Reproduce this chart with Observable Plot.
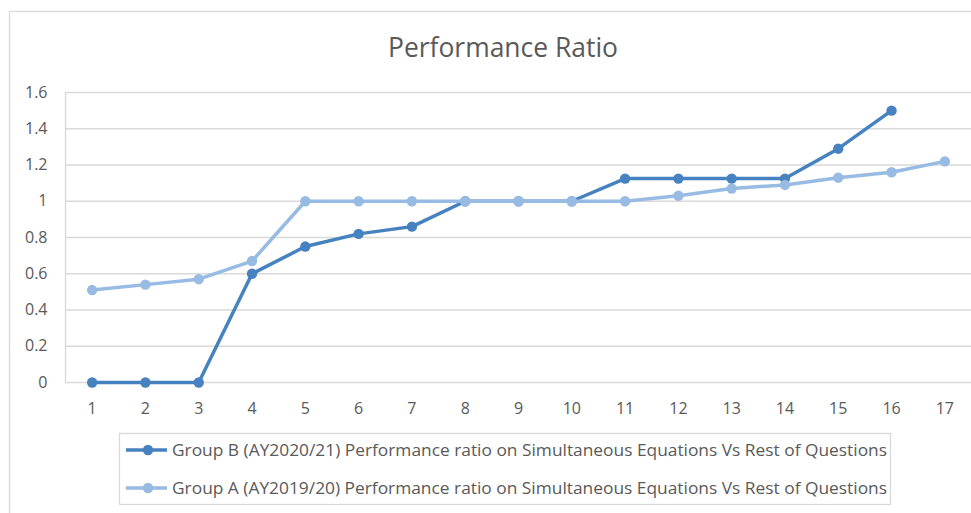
<!DOCTYPE html>
<html>
<head>
<meta charset="utf-8">
<script src="https://cdn.jsdelivr.net/npm/d3@7"></script>
<script src="https://cdn.jsdelivr.net/npm/@observablehq/plot@0.6"></script>
<style>
  html, body { margin: 0; padding: 0; background: #fff; }
  #wrap { position: relative; width: 971px; height: 513px; overflow: hidden; }
  #wrap svg { position: absolute; left: 0; top: 0; }
</style>
</head>
<body>
<div id="wrap"></div>
<script>
const chartTitle = "Performance Ratio";
const questions = [1, 2, 3, 4, 5, 6, 7, 8, 9, 10, 11, 12, 13, 14, 15, 16, 17];
const groupBName = "Group B (AY2020/21) Performance ratio on Simultaneous Equations Vs Rest of Questions";
const groupAName = "Group A (AY2019/20) Performance ratio on Simultaneous Equations Vs Rest of Questions";
const groupB = [0, 0, 0, 0.6, 0.75, 0.82, 0.86, 1, 1, 1, 1.125, 1.125, 1.125, 1.125, 1.29, 1.5];
const groupA = [0.51, 0.54, 0.57, 0.67, 1, 1, 1, 1, 1, 1, 1, 1.03, 1.07, 1.09, 1.13, 1.16, 1.22];
const yTicks = [0, 0.2, 0.4, 0.6, 0.8, 1, 1.2, 1.4, 1.6];
const yTickLabels = ["0", "0.2", "0.4", "0.6", "0.8", "1", "1.2", "1.4", "1.6"];

const colorB = "#4682bf";
const colorA = "#97bbe3";
const textColor = "#595959";
const gridColor = "#d9d9d9";

const rowsB = groupB.map((v, i) => ({q: questions[i], v}));
const rowsA = groupA.map((v, i) => ({q: questions[i], v}));

const plot = Plot.plot({
  width: 971,
  height: 513,
  marginLeft: 65,
  marginRight: 0,
  marginTop: 92,
  marginBottom: 131,
  style: {fontFamily: "'Open Sans', sans-serif", fontSize: "16px", color: textColor, background: "transparent"},
  x: {domain: [0.5, 17.5]},
  y: {domain: [0, 1.6]},
  marks: [
    Plot.ruleY(yTicks, {stroke: gridColor, strokeWidth: 1.3, strokeOpacity: 1}),
    Plot.ruleX([0.5], {y1: 0, y2: 1.6, stroke: gridColor, strokeWidth: 1.3}),
    Plot.axisY({ticks: yTicks, tickSize: 0, tickPadding: 18, tickFormat: d => yTickLabels[yTicks.indexOf(d)], label: null, fill: textColor}),
    Plot.axisX({ticks: questions, tickSize: 0, tickPadding: 20, tickFormat: d => String(d), label: null, fill: textColor}),
    Plot.line(rowsB, {x: "q", y: "v", stroke: colorB, strokeWidth: 3.5}),
    Plot.dot(rowsB, {x: "q", y: "v", fill: colorB, r: 5.2}),
    Plot.line(rowsA, {x: "q", y: "v", stroke: colorA, strokeWidth: 3.5}),
    Plot.dot(rowsA, {x: "q", y: "v", fill: colorA, r: 5.2})
  ]
});

const wrap = document.getElementById("wrap");

// chart frame (behind)
const bg = d3.create("svg").attr("width", 971).attr("height", 513);
bg.append("rect").attr("x", 9.5).attr("y", 11.5).attr("width", 1000).attr("height", 600)
  .attr("fill", "#fff").attr("stroke", gridColor).attr("stroke-width", 1.3);
wrap.appendChild(bg.node());
wrap.appendChild(plot);

// title + legend overlay
const ov = d3.create("svg").attr("width", 971).attr("height", 513)
  .style("font-family", "'Open Sans', sans-serif");
ov.append("text").attr("x", 503).attr("y", 57).attr("text-anchor", "middle")
  .attr("fill", textColor).attr("font-size", 27).attr("textLength", 230)
  .attr("lengthAdjust", "spacingAndGlyphs").text(chartTitle);

ov.append("rect").attr("x", 119.5).attr("y", 433.5).attr("width", 771).attr("height", 71)
  .attr("fill", "none").attr("stroke", gridColor).attr("stroke-width", 1.3);
const entries = [{name: groupBName, color: colorB, cy: 450}, {name: groupAName, color: colorA, cy: 488}];
for (const e of entries) {
  ov.append("line").attr("x1", 126).attr("x2", 167).attr("y1", e.cy).attr("y2", e.cy)
    .attr("stroke", e.color).attr("stroke-width", 3.5);
  ov.append("circle").attr("cx", 148).attr("cy", e.cy).attr("r", 5.2).attr("fill", e.color);
  ov.append("text").attr("x", 172).attr("y", e.cy + 5.6).attr("fill", textColor)
    .attr("font-size", 15.5).attr("textLength", 715).attr("lengthAdjust", "spacingAndGlyphs")
    .text(e.name);
}
wrap.appendChild(ov.node());
</script>
</body>
</html>
